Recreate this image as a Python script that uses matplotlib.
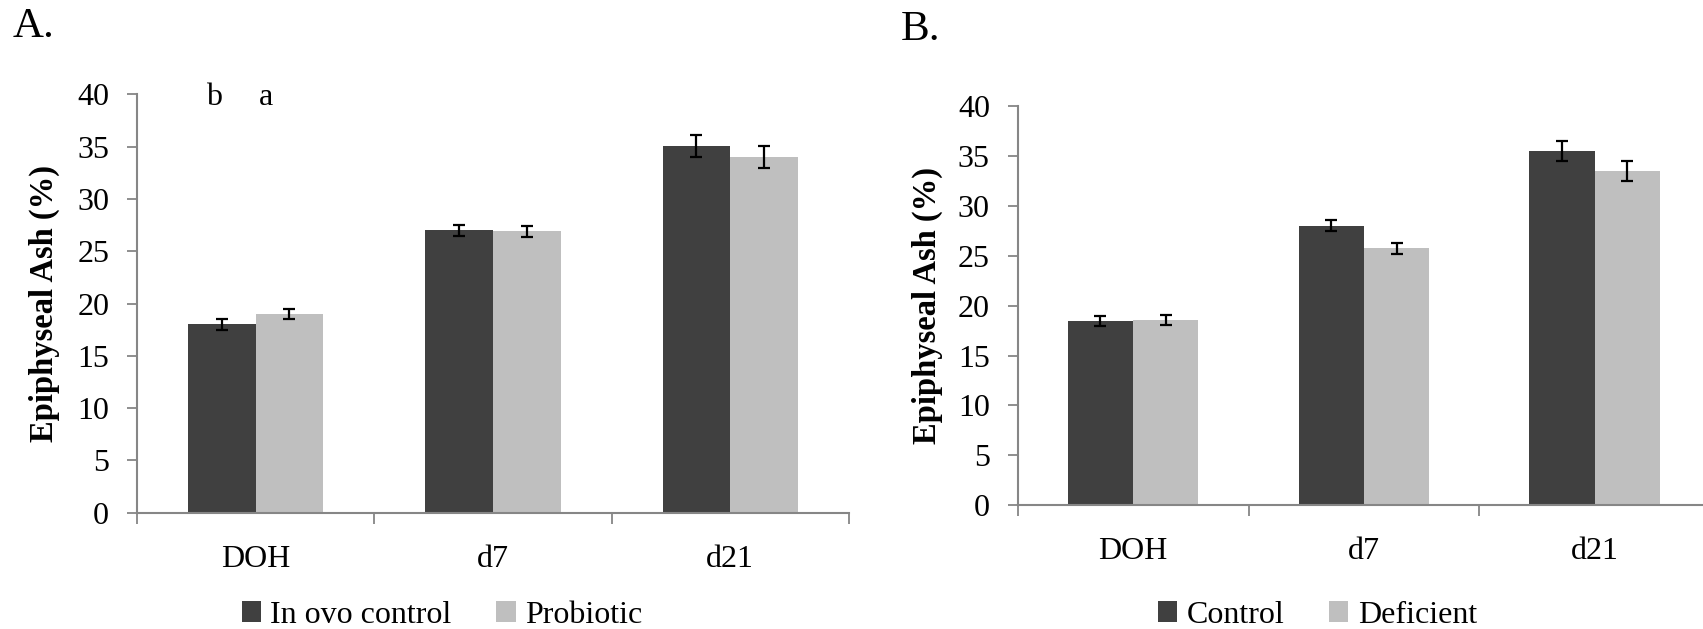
import numpy as np
import matplotlib
matplotlib.use("Agg")
import matplotlib.pyplot as plt
from matplotlib.patches import Patch

plt.rcParams['font.family'] = ['Liberation Serif', 'DejaVu Serif']

# data
days = ["DOH", "d7", "d21"]

a_names = ["In ovo control", "Probiotic"]
a_ctrl = [18.0, 27.0, 35.05]
a_ctrl_err = [0.5, 0.5, 1.05]
a_prob = [19.0, 26.9, 34.0]
a_prob_err = [0.5, 0.5, 1.05]

b_names = ["Control", "Deficient"]
b_ctrl = [18.45, 28.05, 35.55]
b_ctrl_err = [0.5, 0.55, 1.0]
b_def = [18.6, 25.75, 33.5]
b_def_err = [0.5, 0.55, 1.0]

y_ticks = [0, 5, 10, 15, 20, 25, 30, 35, 40]

dark = "#404040"
light = "#bfbfbf"
spine_c = "#868686"


def draw_panel(ax, s1, e1, s2, e2, names, leg_x, bar_w):
    x = np.arange(len(days))
    ax.bar(x - bar_w / 2, s1, bar_w, color=dark, label=names[0])
    ax.bar(x + bar_w / 2, s2, bar_w, color=light, label=names[1])
    ax.errorbar(x - bar_w / 2, s1, yerr=e1, fmt="none", ecolor="black",
                elinewidth=1.6, capsize=4, capthick=1.6)
    ax.errorbar(x + bar_w / 2, s2, yerr=e2, fmt="none", ecolor="black",
                elinewidth=1.6, capsize=4, capthick=1.6)
    ax.set_xlim(-0.5, len(days) - 0.5)
    ax.set_ylim(0, 40)
    ax.set_yticks(y_ticks)
    ax.set_xticks(x)
    ax.set_xticklabels(days)
    ax.set_xticks(np.arange(len(days) + 1) - 0.5, minor=True)
    ax.tick_params(axis="x", which="major", length=0, pad=23, labelsize=23)
    ax.tick_params(axis="x", which="minor", length=8, width=1.3,
                   color=spine_c, direction="out")
    ax.tick_params(axis="y", length=7, width=1.3, color=spine_c, pad=13,
                   labelsize=23)
    for s in ["top", "right"]:
        ax.spines[s].set_visible(False)
    for s in ["left", "bottom"]:
        ax.spines[s].set_color(spine_c)
        ax.spines[s].set_linewidth(1.5)
    ax.set_ylabel("Epiphyseal Ash (%)", fontsize=23.5, fontweight="bold")
    ax.yaxis.set_label_coords(-0.108, 0.5)
    handles = [Patch(facecolor=dark, label=names[0]),
               Patch(facecolor=light, label=names[1])]
    fig.legend(handles=handles, loc="center", bbox_to_anchor=(leg_x, 0.022),
               ncol=2, frameon=False, fontsize=23, handlelength=0.6,
               handleheight=0.6, handletextpad=0.3, columnspacing=1.4)


fig = plt.figure(figsize=(17.03, 6.29), dpi=100)

ax1 = fig.add_axes([0.0804, 0.185, 0.4181, 0.6648])
draw_panel(ax1, a_ctrl, a_ctrl_err, a_prob, a_prob_err, a_names, 0.2596, 0.285)
ax1.text(-0.176, 39.7, "b", fontsize=23, ha="center", va="center")
ax1.text(0.043, 39.7, "a", fontsize=23, ha="center", va="center")

ax2 = fig.add_axes([0.5976, 0.197, 0.4066, 0.6338])
draw_panel(ax2, b_ctrl, b_ctrl_err, b_def, b_def_err, b_names, 0.7736, 0.283)

fig.text(0.0076, 0.958, "A.", fontsize=31, ha="left", va="center")
fig.text(0.529, 0.952, "B.", fontsize=31, ha="left", va="center")

fig.savefig("out.png", dpi=100)
